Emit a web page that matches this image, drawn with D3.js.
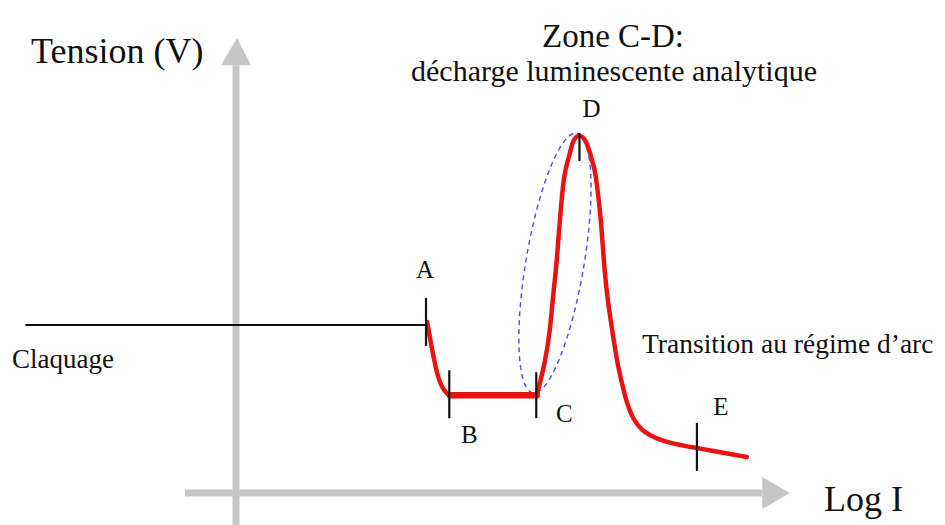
<!DOCTYPE html>
<html>
<head>
<meta charset="utf-8">
<script src="https://cdn.jsdelivr.net/npm/d3@7"></script>
<style>
  body { margin: 0; background: #fff; }
  svg { display: block; }
  text { font-family: "Liberation Serif", "Times New Roman", serif; fill: #111; }
</style>
</head>
<body>
<svg width="945" height="525"></svg>
<script>
// courbe tension / log I (unités arbitraires)
// segment A-B
const curveABX = [3.45, 3.54, 3.65, 3.77, 3.86];
const curveABY = [3.76, 3.14, 2.48, 2.22, 2.15];
// palier B-C
const plateauX = [3.86, 5.43];
const plateauY = [2.15, 2.15];
// segment C-D-E
const curveCEX = [5.43, 5.58, 5.67, 5.72, 5.79, 5.83, 5.87, 5.90, 5.94, 6.03, 6.08, 6.19,
                  6.32, 6.39, 6.48, 6.52, 6.59, 6.64, 6.70, 6.79, 6.88, 7.02, 7.15, 7.35, 7.78, 8.32, 9.22];
const curveCEY = [2.15, 2.86, 3.58, 4.31, 5.06, 5.78, 6.33, 6.73, 7.10, 7.47, 7.76, 7.90,
                  7.76, 7.47, 7.10, 6.73, 6.00, 5.06, 4.31, 3.58, 2.86, 2.11, 1.65, 1.32, 1.10, 0.99, 0.79];

// claquage (ligne noire)
const breakdownX = [-3.8, 3.45];
const breakdownY = [3.69, 3.69];

// points A..E
const markerLabels = ['A', 'B', 'C', 'D', 'E'];
const markerX = [3.43, 3.85, 5.42, 6.2, 8.32];
const markerY = [3.76, 2.17, 2.15, 7.87, 0.99];

// zone C-D (ellipse pointillée) : bas, haut
const zoneX = [5.36, 6.155];
const zoneY = [2.20, 7.91];

const svg = d3.select('svg');
const width = +svg.attr('width');
const height = +svg.attr('height');

const x = d3.scaleLinear().domain([0, 10]).range([236, 790]);
const y = d3.scaleLinear().domain([0, 10]).range([493, 38]);

const axisColor = '#c6c6c6';
const red = '#e81414';

// axes
svg.append('line')
  .attr('x1', x(0)).attr('x2', x(0))
  .attr('y1', y(-0.75)).attr('y2', y(9.4))
  .attr('stroke', axisColor).attr('stroke-width', 7);
svg.append('path')
  .attr('d', `M${x(0) - 15},${y(9.4)} L${x(0) + 15},${y(9.4)} L${x(0) + 1},${y(10)} Z`)
  .attr('fill', axisColor);

svg.append('line')
  .attr('x1', x(-0.92)).attr('x2', x(9.5))
  .attr('y1', y(0)).attr('y2', y(0))
  .attr('stroke', axisColor).attr('stroke-width', 7);
svg.append('path')
  .attr('d', `M${x(9.5)},${y(0) - 16} L${x(9.5)},${y(0) + 16} L${x(10)},${y(0)} Z`)
  .attr('fill', axisColor);

// ellipse zone C-D
const ex1 = x(zoneX[0]), ey1 = y(zoneY[0]), ex2 = x(zoneX[1]), ey2 = y(zoneY[1]);
const rx = Math.hypot(ex2 - ex1, ey2 - ey1) / 2;
const ang = Math.atan2(ey2 - ey1, ex2 - ex1) * 180 / Math.PI;
svg.append('ellipse')
  .attr('cx', (ex1 + ex2) / 2).attr('cy', (ey1 + ey2) / 2)
  .attr('rx', rx).attr('ry', 29)
  .attr('transform', `rotate(${ang} ${(ex1 + ex2) / 2} ${(ey1 + ey2) / 2})`)
  .attr('fill', 'none').attr('stroke', '#4b4be0')
  .attr('stroke-width', 1.4).attr('stroke-dasharray', '5,4');

// ligne de claquage
svg.append('line')
  .attr('x1', x(breakdownX[0])).attr('x2', x(breakdownX[1]))
  .attr('y1', y(breakdownY[0])).attr('y2', y(breakdownY[1]))
  .attr('stroke', '#111').attr('stroke-width', 2);

// courbe rouge
const line = d3.line().x(d => x(d[0])).y(d => y(d[1])).curve(d3.curveBasis);
[[curveABX, curveABY, 4.5], [plateauX, plateauY, 6.5], [curveCEX, curveCEY, 4.5]].forEach(([xs, ys, w]) => {
  svg.append('path')
    .attr('d', line(xs.map((d, i) => [d, ys[i]])))
    .attr('fill', 'none').attr('stroke', red).attr('stroke-width', w)
    .attr('stroke-linejoin', 'round').attr('stroke-linecap', 'round');
});

// repères
const tickExtent = { A: [-24, 24], B: [-24, 24], C: [-23, 23], D: [-2, 26], E: [-25, 23] };
const labelOffset = { A: [-1, -44], B: [20, 49], C: [28, 27], D: [12, -18], E: [24, -33] };
markerLabels.forEach((lab, i) => {
  const px = x(markerX[i]), py = y(markerY[i]);
  svg.append('line')
    .attr('x1', px).attr('x2', px)
    .attr('y1', py + tickExtent[lab][0]).attr('y2', py + tickExtent[lab][1])
    .attr('stroke', '#111').attr('stroke-width', 2.2);
  svg.append('text')
    .attr('x', px + labelOffset[lab][0]).attr('y', py + labelOffset[lab][1])
    .attr('text-anchor', 'middle').attr('font-size', 25)
    .text(lab);
});

// textes
svg.append('text').attr('x', 31).attr('y', 63).attr('font-size', 36).text('Tension (V)');
svg.append('text').attr('x', 824).attr('y', 511).attr('font-size', 36).text('Log I');
svg.append('text').attr('x', 613).attr('y', 47).attr('text-anchor', 'middle')
  .attr('font-size', 33).text('Zone C-D:');
svg.append('text').attr('x', 614).attr('y', 81).attr('text-anchor', 'middle')
  .attr('font-size', 30).text('décharge luminescente analytique');
svg.append('text').attr('x', 12).attr('y', 368).attr('font-size', 27).text('Claquage');
svg.append('text').attr('x', 642).attr('y', 353).attr('font-size', 27.5).text('Transition au régime d’arc');
</script>
</body>
</html>
